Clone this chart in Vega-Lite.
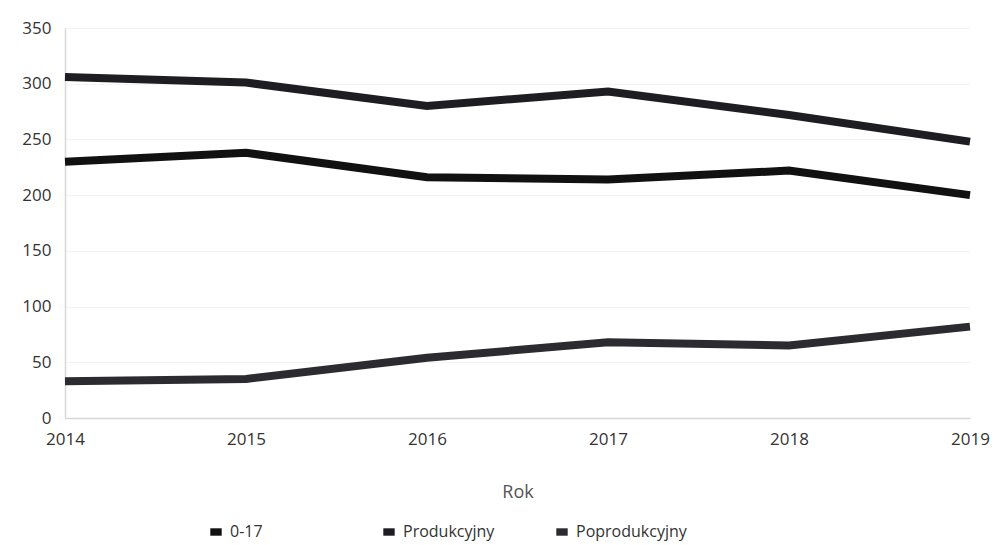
{
  "$schema": "https://vega.github.io/schema/vega-lite/v6.json",
  "width": 905,
  "height": 390,
  "autosize": "none",
  "padding": {"left": 65, "top": 28, "right": 26, "bottom": 127},
  "background": "white",
  "config": {
    "font": "Open Sans",
    "view": {"stroke": null}
  },
  "data": {
    "values": [
      {"rok": "2014", "grupa": "0-17", "v": 230},
      {"rok": "2015", "grupa": "0-17", "v": 238},
      {"rok": "2016", "grupa": "0-17", "v": 216},
      {"rok": "2017", "grupa": "0-17", "v": 214},
      {"rok": "2018", "grupa": "0-17", "v": 222},
      {"rok": "2019", "grupa": "0-17", "v": 200},
      {"rok": "2014", "grupa": "Produkcyjny", "v": 306},
      {"rok": "2015", "grupa": "Produkcyjny", "v": 301},
      {"rok": "2016", "grupa": "Produkcyjny", "v": 280},
      {"rok": "2017", "grupa": "Produkcyjny", "v": 293},
      {"rok": "2018", "grupa": "Produkcyjny", "v": 272},
      {"rok": "2019", "grupa": "Produkcyjny", "v": 248},
      {"rok": "2014", "grupa": "Poprodukcyjny", "v": 33},
      {"rok": "2015", "grupa": "Poprodukcyjny", "v": 35},
      {"rok": "2016", "grupa": "Poprodukcyjny", "v": 54},
      {"rok": "2017", "grupa": "Poprodukcyjny", "v": 68},
      {"rok": "2018", "grupa": "Poprodukcyjny", "v": 65},
      {"rok": "2019", "grupa": "Poprodukcyjny", "v": 82}
    ]
  },
  "mark": {"type": "line", "strokeWidth": 8, "strokeCap": "butt", "strokeJoin": "miter"},
  "encoding": {
    "x": {
      "field": "rok", "type": "ordinal",
      "scale": {"type": "point", "padding": 0},
      "axis": {
        "title": "Rok", "titleFontSize": 18, "titleFontWeight": "normal", "titleColor": "#555", "titlePadding": 36,
        "labelAngle": 0, "labelFontSize": 17, "labelColor": "#333", "labelPadding": 13,
        "ticks": false, "domainColor": "#d8d8d8", "domainWidth": 1.5, "grid": false
      }
    },
    "y": {
      "field": "v", "type": "quantitative",
      "scale": {"domain": [0, 350]},
      "axis": {
        "title": null, "values": [0, 50, 100, 150, 200, 250, 300, 350],
        "labelFontSize": 17, "labelColor": "#333", "labelPadding": 14,
        "ticks": false, "domain": true, "domainColor": "#d8d8d8", "domainWidth": 1.5,
        "grid": true, "gridColor": "#f4f4f4"
      }
    },
    "color": {
      "field": "grupa", "type": "nominal",
      "scale": {"domain": ["0-17", "Produkcyjny", "Poprodukcyjny"], "range": ["#111111", "#1e1e22", "#2c2c30"]},
      "legend": {
        "title": null, "orient": "none", "legendX": 143, "legendY": 496,
        "direction": "horizontal", "columns": 3, "gridAlign": "all", "columnPadding": 40,
        "symbolType": "M-1,-0.65H1V0.65H-1Z", "symbolSize": 130, "symbolStrokeWidth": 0,
        "labelFontSize": 16, "labelColor": "#333", "labelOffset": 6,
        "encode": {"symbols": {"update": {"fill": {"scale": "color", "field": "value"}, "fillOpacity": {"value": 1}}}}
      }
    }
  }
}
